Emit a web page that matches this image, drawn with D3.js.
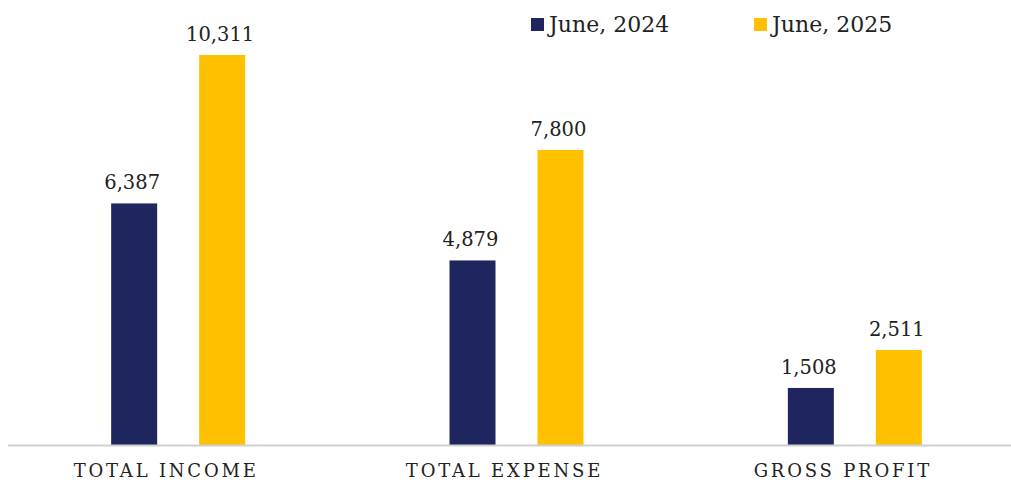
<!DOCTYPE html>
<html><head><meta charset="utf-8">
<script src="https://cdn.jsdelivr.net/npm/d3@7/dist/d3.min.js"></script>
<style>
body{margin:0;background:#fff;}
text{font-family:"DejaVu Serif","Liberation Serif",serif;fill:#222;}
</style></head><body>
<svg id="chart" width="1011" height="482"></svg>
<script>
const categories = ["TOTAL INCOME", "TOTAL EXPENSE", "GROSS PROFIT"];
const seriesNames = ["June, 2024", "June, 2025"];
const june2024 = [6387, 4879, 1508];
const june2025 = [10311, 7800, 2511];
const colors = ["#1F255E", "#FFC000"];

const svg = d3.select("#chart");
const W = 1011, H = 482;
const baseY = 445;

const x0 = d3.scaleBand().domain(categories).range([9, 1024]).paddingInner(0).paddingOuter(0);
const barW = 46;
const y = d3.scaleLinear().domain([0, 10311]).range([baseY, 55]);

const data = categories.map((c, i) => ({cat: c, vals: [june2024[i], june2025[i]]}));

const g = svg.append("g");
const groups = g.selectAll("g.grp").data(data).enter().append("g")
  .attr("transform", d => `translate(${x0(d.cat) + x0.bandwidth()/2},0)`);

groups.selectAll("rect").data(d => d.vals.map((v, k) => ({v, k}))).enter().append("rect")
  .attr("x", d => d.k === 0 ? -67 : 67 - barW)
  .attr("width", barW)
  .attr("y", d => y(d.v))
  .attr("height", d => baseY - y(d.v))
  .attr("fill", d => colors[d.k]);

const fmt = d3.format(",");
groups.selectAll("text.val").data(d => d.vals.map((v, k) => ({v, k}))).enter().append("text")
  .attr("class", "val")
  .attr("x", d => (d.k === 0 ? -67 : 67 - barW) + barW/2 - 2)
  .attr("y", d => y(d.v) - 14)
  .attr("text-anchor", "middle")
  .style("font-size", "19.5px")
  .text(d => fmt(d.v));

// axis line
svg.append("line").attr("x1", 8).attr("x2", W).attr("y1", baseY + 0.5).attr("y2", baseY + 0.5)
  .attr("stroke", "#cfcfcf").attr("stroke-width", 2);

// category labels
groups.append("text")
  .attr("x", -12)
  .attr("y", 477)
  .attr("text-anchor", "middle")
  .style("font-size", "18px")
  .style("letter-spacing", "2.8px")
  .text(d => d.cat);

// legend
const legendX = [531, 754];
const leg = svg.selectAll("g.leg").data(seriesNames).enter().append("g")
  .attr("transform", (d, i) => `translate(${legendX[i]},0)`);
leg.append("rect").attr("x", 0).attr("y", 18).attr("width", 13).attr("height", 13)
  .attr("fill", (d, i) => colors[i]);
leg.append("text").attr("x", 18).attr("y", 32).style("font-size", "22px").text(d => d);
</script>
</body></html>
